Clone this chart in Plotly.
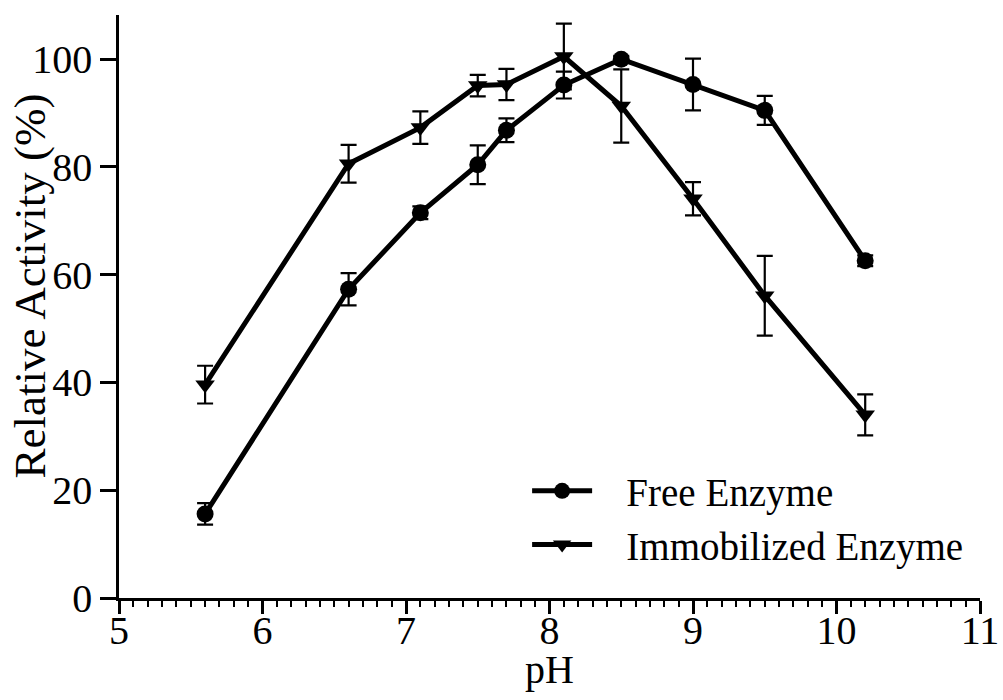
import plotly.graph_objects as go

# pH activity profile of free vs immobilized enzyme
ph = [5.6, 6.6, 7.1, 7.5, 7.7, 8.1, 8.5, 9.0, 9.5, 10.2]

free_activity = [15.6, 57.3, 71.5, 80.4, 86.8, 95.2, 100.0, 95.3, 90.5, 62.6]
free_sd = [2.0, 3.0, 1.2, 3.6, 2.2, 2.5, 0.6, 4.8, 2.7, 1.0]

immob_activity = [39.6, 80.6, 87.3, 95.1, 95.3, 100.5, 91.3, 74.1, 56.1, 34.0]
immob_sd = [3.5, 3.5, 3.0, 2.0, 2.9, 6.1, 6.8, 3.1, 7.4, 3.8]

x_ticks = [5, 6, 7, 8, 9, 10, 11]
y_ticks = [0, 20, 40, 60, 80, 100]

FONT = "Liberation Serif"
PAD = "\u00a0" * 3  # spacing between legend glyph and label

fig = go.Figure()

fig.add_trace(go.Scatter(
    x=ph, y=free_activity, name=PAD + "Free Enzyme", mode="lines+markers",
    line=dict(color="black", width=5),
    marker=dict(symbol="circle", size=17, color="black"),
    error_y=dict(type="data", array=free_sd, visible=True,
                 color="black", thickness=2.2, width=8),
))

fig.add_trace(go.Scatter(
    x=ph, y=immob_activity, name=PAD + "Immobilized Enzyme", mode="lines+markers",
    line=dict(color="black", width=5),
    marker=dict(symbol="triangle-down", size=17, color="black"),
    error_y=dict(type="data", array=immob_sd, visible=True,
                 color="black", thickness=2.2, width=8),
))

fig.update_layout(
    width=1003, height=700,
    margin=dict(l=119, r=23, t=15, b=102),
    paper_bgcolor="white", plot_bgcolor="white",
    font=dict(family=FONT, color="black", size=38),
    showlegend=True,
    legend=dict(
        x=0.474, y=0.036, xanchor="left", yanchor="bottom",
        bgcolor="rgba(0,0,0,0)", font=dict(size=39, family=FONT),
        itemwidth=60, tracegroupgap=2,
    ),
    annotations=[
        dict(text="pH", xref="paper", yref="paper", x=0.5, y=-0.122,
             xanchor="center", yanchor="middle", showarrow=False,
             font=dict(size=40, family=FONT, color="black")),
        dict(text="Relative Activity (%)", xref="paper", yref="paper",
             x=-0.103, y=0.535, xanchor="center", yanchor="middle",
             textangle=-90, showarrow=False,
             font=dict(size=45, family=FONT, color="black")),
    ],
)

fig.update_xaxes(
    range=[5, 11], tickvals=x_ticks, ticktext=[str(v) for v in x_ticks],
    showline=True, linecolor="black", linewidth=2.5,
    ticks="outside", ticklen=13, tickwidth=2.5, tickcolor="black",
    minor=dict(dtick=0.1, ticks="outside", ticklen=6, tickwidth=2,
               tickcolor="black", showgrid=False),
    showgrid=False, zeroline=False, automargin=False,
    ticklabelstandoff=-18,
    tickfont=dict(size=40, family=FONT),
)

fig.update_yaxes(
    range=[0, 108.2], tickvals=y_ticks, ticktext=[str(v) for v in y_ticks],
    showline=True, linecolor="black", linewidth=2.5,
    ticks="outside", ticklen=16, tickwidth=2.5, tickcolor="black",
    showgrid=False, zeroline=False, automargin=False,
    tickfont=dict(size=40, family=FONT),
)

fig.write_html("out.html")
